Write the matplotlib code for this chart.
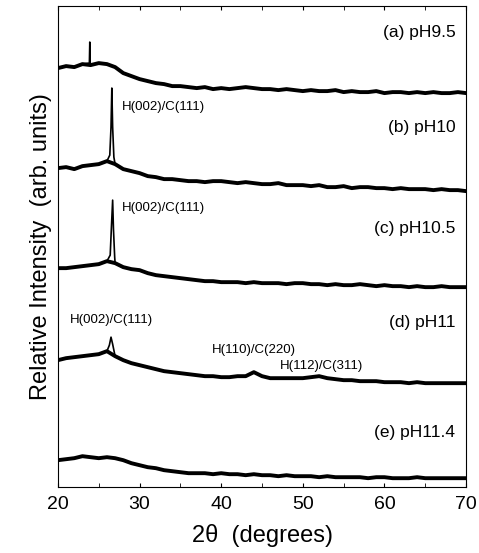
import matplotlib
matplotlib.use("Agg")
import matplotlib.pyplot as plt
from matplotlib.ticker import MultipleLocator

plt.rcParams["font.family"] = ["Liberation Sans", "DejaVu Sans"]

# 2-theta grid for the broad background (degrees)
two_theta = list(range(20, 71))

# background intensity (arb. units, already offset)
bg_a = [419, 421, 420, 423, 422, 424, 423, 420, 414, 411, 408, 406, 404, 403, 401,
        401, 400, 399, 400, 398, 399, 398, 399, 400, 399, 398, 398, 397, 398, 397,
        396, 397, 396, 396, 397, 395, 396, 395, 395, 396, 394, 395, 395, 394, 395,
        394, 395, 394, 394, 395, 394]
bg_b = [319, 320, 318, 321, 322, 323, 326, 323, 318, 316, 314, 311, 310, 308, 308,
        307, 306, 306, 305, 306, 306, 305, 304, 305, 304, 303, 303, 304, 302, 302,
        302, 301, 302, 300, 300, 301, 299, 300, 300, 299, 299, 298, 299, 298, 298,
        298, 297, 298, 297, 297, 296]
bg_c = [219, 219, 220, 221, 222, 223, 226, 224, 220, 218, 217, 214, 212, 211, 210,
        209, 208, 207, 206, 206, 205, 205, 205, 204, 205, 204, 204, 204, 203, 204,
        204, 203, 203, 202, 203, 202, 202, 203, 202, 201, 202, 201, 201, 200, 201,
        200, 200, 201, 200, 200, 200]
bg_d = [127, 129, 130, 131, 132, 133, 136, 131, 127, 124, 122, 120, 118, 116, 115,
        114, 113, 112, 111, 111, 110, 110, 111, 111, 115, 111, 109, 109, 109, 109,
        109, 110, 111, 109, 108, 107, 107, 106, 106, 106, 105, 105, 105, 104, 105,
        104, 104, 104, 104, 104, 104]
bg_e = [27, 28, 29, 31, 30, 29, 30, 29, 27, 24, 22, 20, 19, 17, 16,
        15, 14, 14, 14, 13, 14, 13, 13, 12, 13, 12, 12, 11, 12, 11,
        11, 11, 10, 11, 10, 10, 10, 10, 9, 10, 10, 9, 9, 9, 10,
        9, 9, 9, 9, 9, 9]

# sharp features (2-theta, intensity)
pk_a = {23.85: 424, 23.9: 445, 23.95: 424}
pk_b = {26.35: 332, 26.5: 360, 26.6: 399, 26.7: 360, 26.85: 330}
pk_c = {26.4: 232, 26.55: 260, 26.7: 287, 26.8: 258, 26.95: 230}
pk_d = {26.3: 142, 26.5: 150, 26.7: 143}

labels = ["(a) pH9.5", "(b) pH10", "(c) pH10.5", "(d) pH11", "(e) pH11.4"]
label_y = [455, 360, 259, 165, 55]


def merge(bg, peaks):
    pts = dict(zip(two_theta, bg))
    pts.update(peaks)
    xs = sorted(pts)
    return xs, [pts[x] for x in xs]


fig = plt.figure(figsize=(4.79, 5.53), dpi=100)
ax = fig.add_axes([0.121, 0.119, 0.852, 0.870])

for bg, pk in [(bg_a, pk_a), (bg_b, pk_b), (bg_c, pk_c), (bg_d, pk_d), (bg_e, {})]:
    # thick stroke stands in for the noise band, thin one carries the peaks
    ax.plot(two_theta, bg, color="black", lw=2.8, solid_joinstyle="round")
    xs, ys = merge(bg, pk)
    ax.plot(xs, ys, color="black", lw=1.2)

for lab, y in zip(labels, label_y):
    ax.text(68.7, y, lab, ha="right", va="center", fontsize=12.5)

peak_labels = [
    (27.8, 380, "H(002)/C(111)"),
    (27.8, 279, "H(002)/C(111)"),
    (21.5, 167, "H(002)/C(111)"),
    (38.9, 137, "H(110)/C(220)"),
    (47.2, 121, "H(112)/C(311)"),
]
for x, y, t in peak_labels:
    ax.text(x, y, t, ha="left", va="center", fontsize=9.5)

ax.set_xlim(20, 70)
ax.set_ylim(0, 481)
ax.xaxis.set_major_locator(MultipleLocator(10))
ax.xaxis.set_minor_locator(MultipleLocator(5))
ax.tick_params(axis="x", which="both", direction="in", top=True, length=3,
               labelsize=14, pad=6)
ax.set_yticks([])
ax.set_xlabel("2θ  (degrees)", fontsize=17, labelpad=8)
ax.set_ylabel("Relative Intensity  (arb. units)", fontsize=17, labelpad=4)

fig.savefig("out.png", dpi=100)
